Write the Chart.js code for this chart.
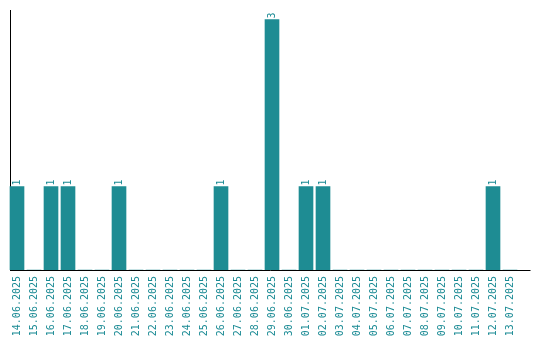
<!DOCTYPE html>
<html>
<head>
<meta charset="utf-8">
<script src="https://cdn.jsdelivr.net/npm/chart.js@4/dist/chart.umd.min.js"></script>
<style>
html,body{margin:0;padding:0;background:#fff;}
#wrap{width:540px;height:340px;}
</style>
</head>
<body>
<div id="wrap"><canvas id="c" width="540" height="340"></canvas></div>
<script>
const dates = [
  "14.06.2025","15.06.2025","16.06.2025","17.06.2025","18.06.2025","19.06.2025",
  "20.06.2025","21.06.2025","22.06.2025","23.06.2025","24.06.2025","25.06.2025",
  "26.06.2025","27.06.2025","28.06.2025","29.06.2025","30.06.2025","01.07.2025",
  "02.07.2025","03.07.2025","04.07.2025","05.07.2025","06.07.2025","07.07.2025",
  "08.07.2025","09.07.2025","10.07.2025","11.07.2025","12.07.2025","13.07.2025"
];
const counts = [1,0,1,1,0,0,1,0,0,0,0,0,1,0,0,3,0,1,1,0,0,0,0,0,0,0,0,0,1,0];
const yMax = 3.115;

const teal = "#1e8c93";
const labelColor = "#1a8a94";
const fontSpec = "10px 'DejaVu Sans Mono', monospace";

const axisLines = {
  id: "axisLines",
  beforeDatasetsDraw(chart) {
    const { ctx, chartArea: a } = chart;
    ctx.save();
    ctx.strokeStyle = "#000";
    ctx.lineWidth = 1;
    ctx.beginPath();
    ctx.moveTo(a.left + 2, a.top);
    ctx.lineTo(a.left + 2, a.bottom + 1);
    ctx.moveTo(a.left + 1.5, a.bottom + 0.5);
    ctx.lineTo(a.right + 12, a.bottom + 0.5);
    ctx.stroke();
    ctx.restore();
  }
};

const valueLabels = {
  id: "valueLabels",
  afterDatasetsDraw(chart) {
    const { ctx } = chart;
    const meta = chart.getDatasetMeta(0);
    ctx.save();
    ctx.fillStyle = labelColor;
    ctx.font = fontSpec;
    ctx.textAlign = "left";
    ctx.textBaseline = "middle";
    meta.data.forEach((bar, i) => {
      const v = counts[i];
      if (!v) return;
      ctx.save();
      ctx.translate(bar.x, bar.y - 1);
      ctx.rotate(-Math.PI / 2);
      ctx.fillText(String(v), 0, 0);
      ctx.restore();
    });
    ctx.restore();
  }
};

new Chart(document.getElementById("c"), {
  type: "bar",
  data: {
    labels: dates,
    datasets: [{
      data: counts,
      backgroundColor: teal,
      borderWidth: 0,
      barThickness: 14
    }]
  },
  options: {
    responsive: false,
    animation: false,
    layout: { padding: { left: 8.5, right: 21.5, top: 10, bottom: 0 } },
    plugins: { legend: { display: false }, tooltip: { enabled: false } },
    scales: {
      x: {
        offset: true,
        grid: { display: false, drawTicks: false },
        border: { display: false },
        ticks: {
          autoSkip: false,
          maxRotation: 90,
          minRotation: 90,
          padding: 6,
          color: labelColor,
          font: { family: "'DejaVu Sans Mono', monospace", size: 10 }
        },
        afterFit(scale) { scale.height = 70; }
      },
      y: {
        display: false,
        min: 0,
        max: yMax,
        beginAtZero: true
      }
    }
  },
  plugins: [axisLines, valueLabels]
});
</script>
</body>
</html>
